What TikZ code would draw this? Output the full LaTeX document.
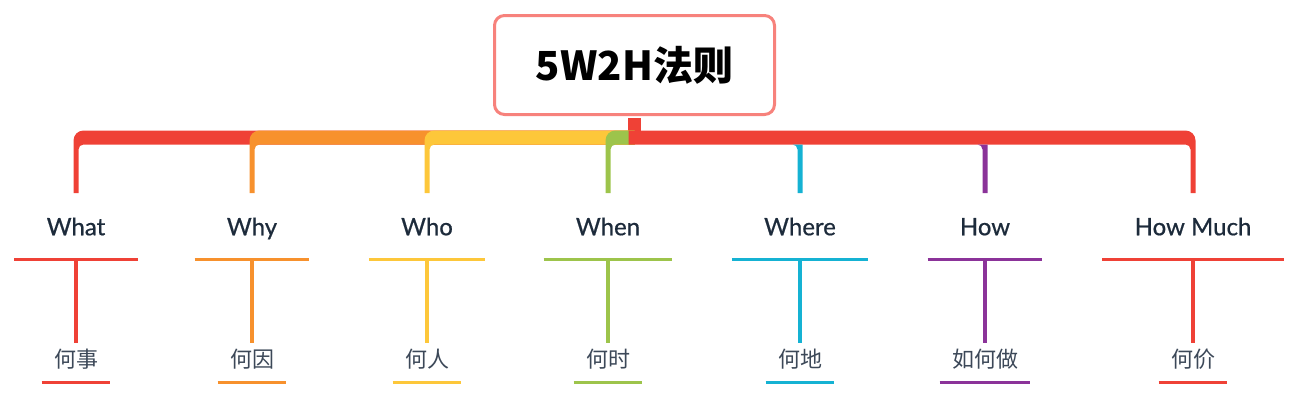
\documentclass[tikz,border=0pt]{standalone}
\usepackage{fontspec}
\setmainfont{Lato}
\newfontfamily\topicfont{Lato}[FakeBold=0.7]
\newfontfamily\cjk{Noto Sans CJK SC}
\usetikzlibrary{positioning,calc}

\definecolor{cRoot}{HTML}{F7827C}
\definecolor{cWhat}{HTML}{EF4136}
\definecolor{cWhy}{HTML}{F7912D}
\definecolor{cWho}{HTML}{FDC73A}
\definecolor{cWhen}{HTML}{9DC44B}
\definecolor{cWhere}{HTML}{15B2D3}
\definecolor{cHow}{HTML}{8B3399}
\definecolor{cText}{HTML}{1D2B3B}
\definecolor{cSub}{HTML}{3C4858}

\tikzset{
  rootbox/.style={draw=cRoot, fill=white, line width=2.25pt, rounded corners=7.5pt,
    minimum width=210pt, minimum height=74.25pt, text=black,
    font=\cjk\bfseries\fontsize{30pt}{30pt}\selectfont},
  topic/.style={anchor=north, inner xsep=24pt, inner ysep=0pt, text height=31.5pt,
    text depth=18pt, text=cText, font=\topicfont\fontsize{18pt}{18pt}\selectfont},
  sub/.style={inner xsep=9pt, inner ysep=0pt, text height=18.75pt, text depth=10.5pt,
    text=cSub, font=\cjk\fontsize{16.5pt}{16.5pt}\selectfont},
  uline/.style={line width=2.25pt},
  stem/.style={line width=3pt},
}

\begin{document}
\begin{tikzpicture}[x=0.75pt, y=-0.75pt]
  \useasboundingbox (0,0) rectangle (1306,418);

  \node[rootbox] (root) at (634.5,65) {5W2H法则};
  \coordinate (bus) at ($(root.south)+(0,14.5)$);

  % first row
  \node[topic] (what) at (76,193) {What};
  \node[topic] (why) at (252,193) {Why};
  \node[topic] (who) at (427,193) {Who};
  \node[topic] (when) at (608,193) {When};
  \node[topic] (where) at (800,193) {Where};
  \node[topic] (how) at (985,193) {How};
  \node[topic] (much) at (1193,193) {How Much};

  % second row
  \node[sub, below=62.25pt of what] (whatsub) {何事};
  \node[sub, below=62.25pt of why] (whysub) {何因};
  \node[sub, below=62.25pt of who] (whosub) {何人};
  \node[sub, below=62.25pt of when] (whensub) {何时};
  \node[sub, below=62.25pt of where] (wheresub) {何地};
  \node[sub, below=62.25pt of how] (howsub) {如何做};
  \node[sub, below=62.25pt of much] (muchsub) {何价};

  % bus
  \fill[cWhat] ($(root.south)+(-6.5,1.5)$) rectangle ($(bus)+(6.5,7)$);
  \foreach \n/\c in {what/cWhat, why/cWhy, who/cWho, when/cWhen}
    \fill[\c] (bus) -- ($(bus -| \n.north)+(7.5,0)$) arc[start angle=90, end angle=180, radius=7.5pt]
      -- ($(\n.north)+(-2.5,0)$) -- ($(\n.north)+(2.5,0)$)
      -- ($(bus -| \n.north)+(2.5,19)$) arc[start angle=180, end angle=90, radius=3.75pt]
      -- ($(bus)+(0,14)$) -- cycle;
  \fill[cWhat] ($(bus)+(-6,0)$) -- ($(bus -| much.north)+(-7.5,0)$) arc[start angle=90, end angle=0, radius=7.5pt]
    -- ($(much.north)+(2.5,0)$) -- ($(much.north)+(-2.5,0)$)
    -- ($(bus -| much.north)+(-2.5,19)$) arc[start angle=0, end angle=90, radius=3.75pt]
    -- ($(bus)+(-6,14)$) -- cycle;
  \foreach \n/\c in {where/cWhere, how/cHow}
    \fill[\c] ($(bus -| \n.north)+(-7.5,14)$) arc[start angle=90, end angle=0, radius=3.75pt]
      -- ($(\n.north)+(-2.5,0)$) -- ($(\n.north)+(2.5,0)$)
      -- ($(bus -| \n.north)+(2.5,14)$) -- cycle;

  % underlines and stems
  \foreach \n/\c in {what/cWhat, why/cWhy, who/cWho, when/cWhen, where/cWhere, how/cHow, much/cWhat} {
    \draw[uline, \c] (\n.south west) -- (\n.south east);
    \draw[stem, \c] (\n.south) -- (\n sub.north);
    \draw[uline, \c] (\n sub.south west) -- (\n sub.south east);
  }
\end{tikzpicture}
\end{document}
